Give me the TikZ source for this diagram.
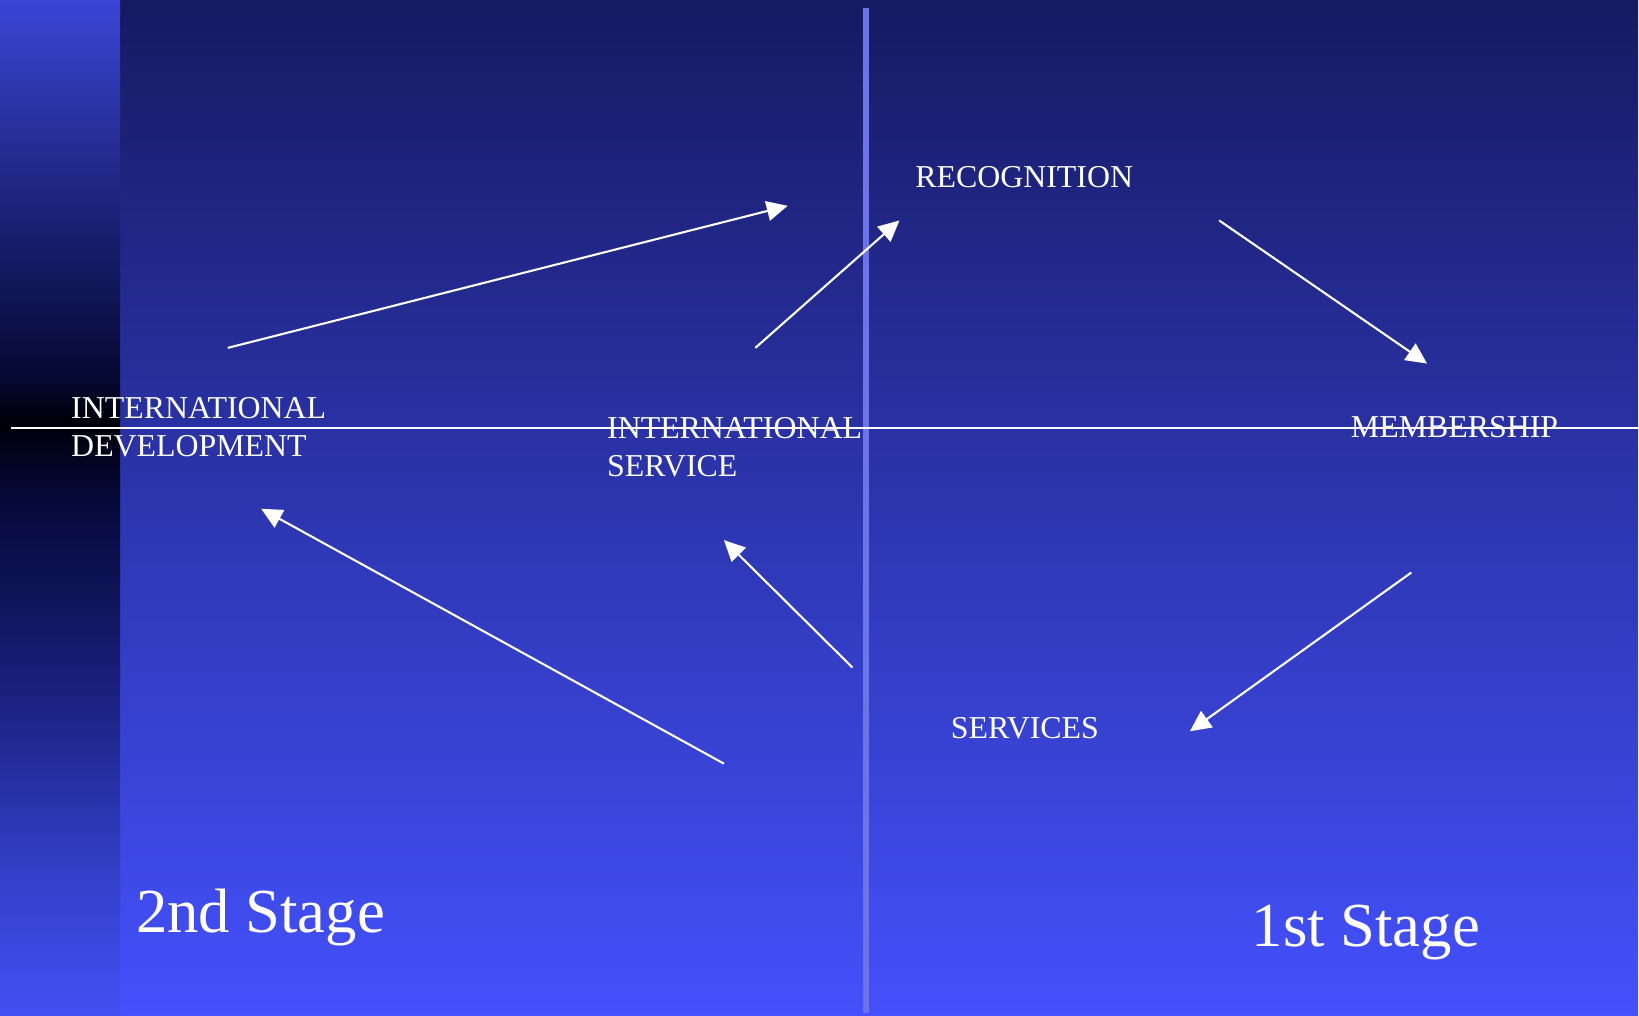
\documentclass[tikz,border=0pt]{standalone}
\usepackage{fontspec}
\setmainfont{Liberation Serif}
\usepackage{xcolor}
\usetikzlibrary{arrows.meta}
\definecolor{navytop}{RGB}{22,26,98}
\definecolor{bluebot}{RGB}{68,81,252}
\definecolor{divider}{RGB}{108,116,232}
% left strip: light at top and bottom, black at the middle line
\pgfdeclareverticalshading{stripshade}{100bp}{
  color(0bp)=(rgb,255:red,66;green,80;blue,244);
  color(25bp)=(rgb,255:red,66;green,80;blue,244);
  color(32bp)=(rgb,255:red,51;green,64;blue,200);
  color(40.5bp)=(rgb,255:red,28;green,34;blue,130);
  color(45.5bp)=(rgb,255:red,15;green,20;blue,90);
  color(50.4bp)=(rgb,255:red,6;green,9;blue,58);
  color(54.3bp)=(rgb,255:red,0;green,0;blue,8);
  color(56.2bp)=(rgb,255:red,5;green,8;blue,48);
  color(62.7bp)=(rgb,255:red,22;green,28;blue,104);
  color(70.1bp)=(rgb,255:red,44;green,53;blue,168);
  color(75bp)=(rgb,255:red,58;green,69;blue,214);
  color(100bp)=(rgb,255:red,58;green,69;blue,214)
}
\tikzset{
  word/.style={ % white caption of a stage step
    text=white, inner sep=0pt, anchor=base west,
    font=\fontsize{30.5}{36.7}\selectfont, align=left
  },
  stagename/.style={ % big stage caption at the bottom
    text=white, inner sep=0pt, anchor=base west,
    font=\fontsize{60}{72}\selectfont
  },
  flow/.style={ % white arrow between the steps
    white, line width=2pt,
    -{Triangle[length=20pt,width=19pt]}
  }
}

\begin{document}
\begin{tikzpicture}[x=1pt, y=-1pt]

      % background
      \shade[top color=navytop, bottom color=bluebot] (115,0) rectangle (1568,972);
      \shade[shading=stripshade] (0,0) rectangle (115,972);
      \draw[divider, line width=5pt] (829,8) -- (829,970);
      \draw[white, line width=1.8pt] (11,410) -- (1568,410);

      % the steps (base of the last line)
      \node[word] (intdev) at (68,437) {INTERNATIONAL\\DEVELOPMENT};
      \node[word] (intserv) at (581,456) {INTERNATIONAL\\SERVICE};
      \node[word] (recog) at (876,179) {RECOGNITION};
      \node[word] (member) at (1293,419) {MEMBERSHIP};
      \node[word] (serv) at (910,707) {SERVICES};
      \node[stagename] (stage_two) at (130,893) {2nd Stage};
      \node[stagename] (stage_one) at (1198,906) {1st Stage};

      \coordinate (dev_up) at (218,333);
      \coordinate (dev_up_end) at (754,197);
      \coordinate (serv_up) at (723,333);
      \coordinate (recog_in) at (861,211);
      \coordinate (recog_out) at (1167,211);
      \coordinate (member_in) at (1366,348);
      \coordinate (member_out) at (1351,548);
      \coordinate (serv_in) at (1139,700);
      \coordinate (serv_out) at (816,639);
      \coordinate (intserv_in) at (693,517);
      \coordinate (back_out) at (693,731);
      \coordinate (intdev_in) at (250,487);

      \draw[flow] (dev_up) -- (dev_up_end);
      \draw[flow] (serv_up) -- (recog_in);
      \draw[flow] (recog_out) -- (member_in);
      \draw[flow] (member_out) -- (serv_in);
      \draw[flow] (serv_out) -- (intserv_in);
      \draw[flow] (back_out) -- (intdev_in);
    \end{tikzpicture}
\end{document}
